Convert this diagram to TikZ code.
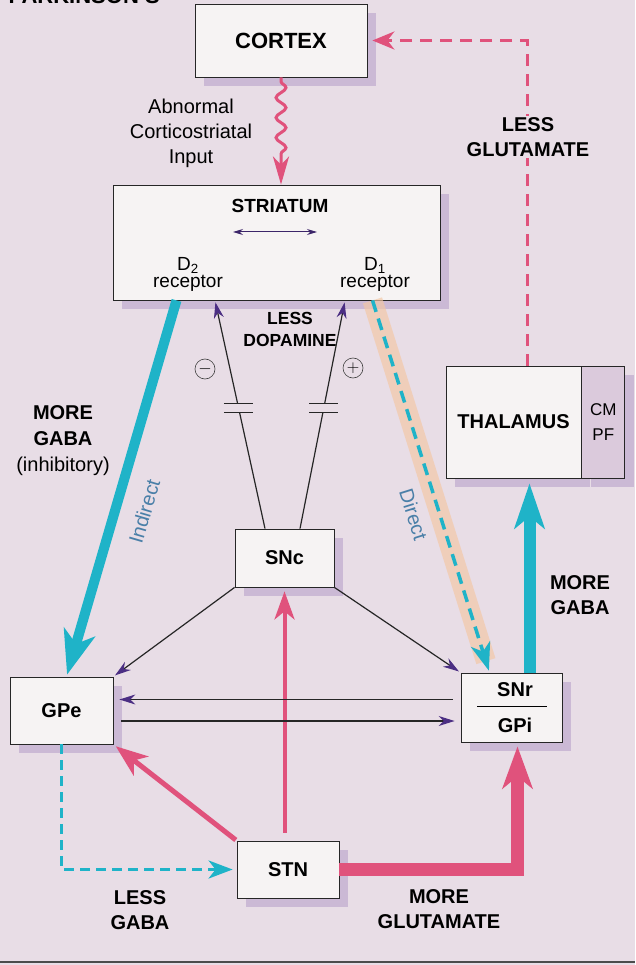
\documentclass[tikz,border=0pt]{standalone}
\usepackage{fontspec}
\setmainfont{Liberation Sans}
\usetikzlibrary{arrows,arrows.meta,positioning,shadows,decorations.pathmorphing}
\definecolor{bgc}{HTML}{E8DDE6}
\definecolor{boxc}{HTML}{F6F3F3}
\definecolor{shadc}{HTML}{CBB9D5}
\definecolor{sidec}{HTML}{DBCADC}
\definecolor{pinkc}{HTML}{E0527C}
\definecolor{cyanc}{HTML}{1FB3C8}
\definecolor{peachc}{HTML}{F4C7A3}
\definecolor{tipc}{HTML}{4B2E83}
\definecolor{pathc}{HTML}{4A7FA8}
\tikzset{
    %Define standard arrow tip
    >=stealth',
    %Define style for boxes
    box/.style={
           rectangle,
           draw=black!85, line width=0.8pt,
           fill=boxc,
           inner sep=0pt,
           font=\bfseries\fontsize{20}{24}\selectfont,
           text centered,
           drop shadow={shadow xshift=9pt, shadow yshift=-9pt, fill=shadc, opacity=1}},
    lbl/.style={
           font=\bfseries\fontsize{20}{25}\selectfont,
           align=center, inner sep=1pt},
    txt/.style={
           font=\fontsize{20}{25}\selectfont,
           align=center, inner sep=1pt},
    pathlbl/.style={
           font=\fontsize{20}{20}\selectfont,
           text=pathc, inner sep=2pt},
    pm/.style={
           circle, draw=black!75, line width=0.6pt,
           minimum size=20pt, inner sep=0pt,
           font=\fontsize{16}{16}\selectfont},
    brk/.style={
           fill=bgc, minimum width=28pt, minimum height=8pt, inner sep=0pt},
    % Define arrow styles
    feed/.style={
           line width=1.2pt, draw=black!85,
           -{Stealth[length=16pt,width=10pt,color=tipc]},
           shorten >=2pt},
    glu/.style={
           draw=pinkc, line cap=butt},
    gaba/.style={
           draw=cyanc, line cap=butt}
}

\begin{document}
\begin{tikzpicture}[x=1pt,y=-1pt]
\useasboundingbox (0,0) rectangle (635,965);
\fill[bgc] (0,0) rectangle (635,965);
\draw[line width=1.5pt, black!70] (0,962) -- (635,962);
\node[anchor=base west, font=\bfseries\fontsize{22}{22}\selectfont] (title) at (5,4) {PARKINSON'S};
 %nodes
\node[box, minimum width=172pt, minimum height=73pt, font=\bfseries\fontsize{22}{24}\selectfont] (cortex) at (281,40.5) {CORTEX};
\node[box, minimum width=327pt, minimum height=115pt] (striatum) at (276.5,242.5) {};
\node[box, minimum width=99pt, minimum height=58pt] (snc) at (284.5,558) {SNc};
\node[box, minimum width=103pt, minimum height=67pt] (gpe) at (61.5,710.5) {GPe};
\node[box, minimum width=101pt, minimum height=69pt] (snr) at (511.5,707.5) {};
\node[box, minimum width=102pt, minimum height=57pt] (stn) at (288,869.5) {STN};
\node[box, minimum width=135pt, minimum height=112pt] (thal) at (513.5,422) {THALAMUS};
\node[box, fill=sidec, minimum width=43pt, minimum height=112pt, right=0pt of thal,
      font=\fontsize{17}{25}\selectfont, align=center] (cmpf) {CM\\PF};
 %texts inside boxes
\node[font=\bfseries\fontsize{19}{22}\selectfont] (strlbl) at (280,206) {STRIATUM};
\node[txt, font=\fontsize{19}{17}\selectfont] (d2) at (188,274) {D\textsubscript{2}\\receptor};
\node[txt, font=\fontsize{19}{17}\selectfont] (d1) at (375,274) {D\textsubscript{1}\\receptor};
\coordinate (dl) at ([xshift=-43.5pt,yshift=10.5pt]striatum.center);
\coordinate (dr) at ([xshift=40.5pt,yshift=10.5pt]striatum.center);
\draw[line width=1pt, draw=tipc!80!black, {Stealth[length=10pt,width=6pt]}-{Stealth[length=10pt,width=6pt]}] (dl) -- (dr);
\node[font=\bfseries\fontsize{20}{24}\selectfont] (snrlbl) at (515,690) {SNr};
\node[font=\bfseries\fontsize{20}{24}\selectfont] (gpilbl) at (515,725) {GPi};
\draw[line width=1pt] ([xshift=-38pt]snrlbl.south |- 0,706) -- ([xshift=32pt]snrlbl.south |- 0,706);
 %labels
\node[txt] (abn) at (191,133) {Abnormal\\Corticostriatal\\Input};
\node[lbl, font=\bfseries\fontsize{17.5}{22}\selectfont] (lessdop) at (290,329) {LESS\\DOPAMINE};
\node[lbl, font=\bfseries\fontsize{20}{26}\selectfont] (moregaba) at (63,441) {MORE\\GABA\\\mdseries(inhibitory)};
\node[lbl] (moregaba2) at (580,595) {MORE\\GABA};
\node[lbl] (lessgaba) at (140,910) {LESS\\GABA};
\node[lbl] (moreglu) at (439,909) {MORE\\GLUTAMATE};
\node[pm] (minus) at (205,369) {$-$};
\node[pm] (plus) at (353,368) {$+$};
 %cortex loop
\draw[glu, line width=3pt, -{Stealth[length=28pt,width=16pt,inset=8pt]}, decorate,
      decoration={snake, amplitude=5pt, segment length=20pt, pre length=4pt, post length=30pt}]
    (cortex.south) -- (cortex.south |- striatum.north);
\draw[glu, line width=3pt, dash pattern=on 12pt off 8pt, -{Stealth[length=22pt,width=18pt,inset=7pt]}, shorten >=5pt]
    ([xshift=13.5pt]thal.north) |- (cortex.east);
\node[lbl, fill=bgc] (lessglu) at (528,137) {LESS\\GLUTAMATE};
 %dopamine
\draw[feed] ([xshift=-19.5pt]snc.north) -- node[brk, pos=.53] (brkl) {} ([xshift=-61.5pt]striatum.south);
\draw[feed] ([xshift=15.5pt]snc.north) -- node[brk, pos=.53] (brkr) {} ([xshift=68.5pt]striatum.south);
\foreach \b in {brkl,brkr}
    \draw[line width=1.1pt, black!85] (\b.north west) -- (\b.north east) (\b.south west) -- (\b.south east);
\draw[feed] (snc.south west) -- (gpe.north east);
\draw[feed] (snc.south east) -- (snr.north west);
 %indirect and direct
\draw[gaba, line width=10pt, -{Stealth[length=44pt,width=32pt,inset=12pt]}, shorten >=2pt]
    ([xshift=-100pt]striatum.south) -- node[pathlbl, sloped, below=14pt, pos=.54] (indlbl) {Indirect} ([xshift=5pt]gpe.north);
\draw[peachc, opacity=.65, line width=20pt, shorten >=12pt]
    ([xshift=96pt]striatum.south) -- ([xshift=-22pt]snr.north);
\draw[gaba, line width=3.5pt, dash pattern=on 12pt off 7pt, -{Stealth[length=28pt,width=20pt,inset=8pt]}, shorten >=2pt]
    ([xshift=96pt]striatum.south) -- node[pathlbl, sloped, below=14pt, pos=.555] (dirlbl) {Direct} ([xshift=-22pt]snr.north);
\draw[gaba, line width=12pt, -{Stealth[length=45pt,width=30pt,inset=12pt]}, shorten >=5pt]
    ([xshift=18pt]snr.north) -- ([xshift=18pt]snr.north |- thal.south);
 %basal loop
\draw[glu, line width=4pt, -{Stealth[length=28pt,width=20pt,inset=8pt]}, shorten <=8pt, shorten >=4pt]
    (snc.south |- stn.north) -- (snc.south);
\draw[glu, line width=5pt, -{Stealth[length=32pt,width=24pt,inset=9pt]}, shorten <=1pt, shorten >=3pt]
    (stn.north west) -- (gpe.south east);
\draw[gaba, line width=3.5pt, dash pattern=on 10pt off 6pt, -{Stealth[length=24pt,width=18pt,inset=7pt]}, shorten >=4pt]
    (gpe.south) |- (stn.west);
\draw[glu, line width=13pt, line join=miter, -{Stealth[length=42pt,width=30pt,inset=12pt]}, shorten >=4pt]
    (stn.east) -| ([xshift=6pt]snr.south);
\draw[feed, shorten <=8pt, shorten >=6pt] ([yshift=8pt]snr.west) -- ([yshift=8pt]snr.west -| gpe.east);
\draw[feed, shorten <=8pt, shorten >=6pt] ([yshift=-10.5pt]gpe.east) -- ([yshift=-10.5pt]gpe.east -| snr.west);
\end{tikzpicture}
\end{document}
